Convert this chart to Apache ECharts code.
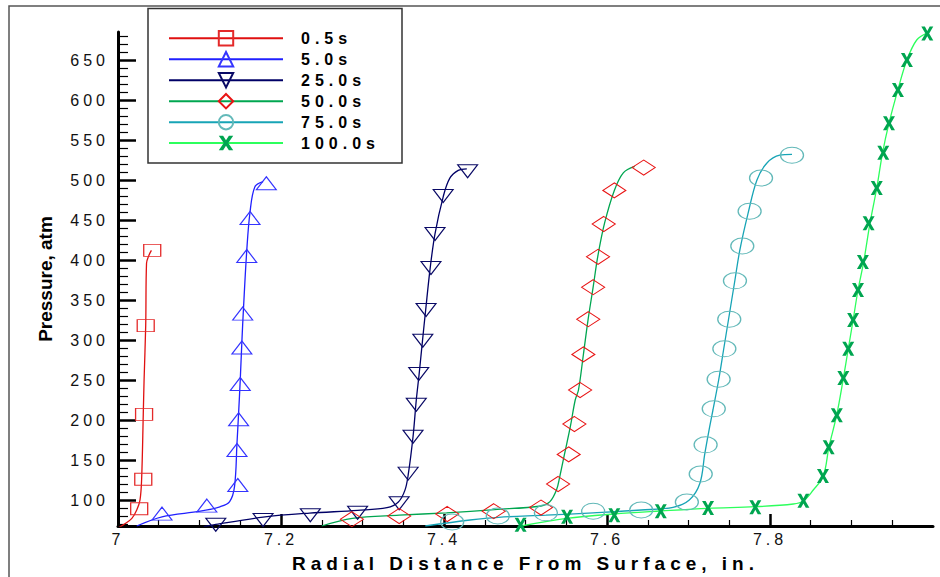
<!DOCTYPE html>
<html>
<head>
<meta charset="utf-8">
<script src="https://cdn.jsdelivr.net/npm/echarts@6/dist/echarts.min.js"></script>
<style>
html,body{margin:0;padding:0;background:#fff;}
#chart{width:940px;height:577px;}
</style>
</head>
<body>
<div id="chart"></div>
<script>
// ---- Series names ----
const seriesNames = ['0.5s', '5.0s', '25.0s', '50.0s', '75.0s', '100.0s'];

// ---- Axis ticks ----
const xMajorTicks = [7, 7.2, 7.4, 7.6, 7.8];
const xMinorTicks = [7.05, 7.1, 7.15, 7.25, 7.3, 7.35, 7.45, 7.5, 7.55, 7.65, 7.7, 7.75, 7.85, 7.9, 7.95];
const yMajorTicks = [100, 150, 200, 250, 300, 350, 400, 450, 500, 550, 600, 650];
const yMinorTicks = [70, 80, 90, 110, 120, 130, 140, 160, 170, 180, 190, 210, 220, 230, 240, 260, 270, 280, 290,
  310, 320, 330, 340, 360, 370, 380, 390, 410, 420, 430, 440, 460, 470, 480, 490, 510, 520, 530, 540,
  560, 570, 580, 590, 610, 620, 630, 640, 660, 670, 680];
const xRange = [7, 8];
const yRange = [67.5, 685];

// ---- 0.5 s ----
const t05LineX = [7.000, 7.008, 7.017, 7.023, 7.027, 7.029, 7.031, 7.032, 7.034, 7.035, 7.038, 7.041];
const t05LineY = [65, 70, 77, 87.5, 100, 126, 207, 250, 318, 396, 406, 412];
const t05MarkX = [7.026, 7.031, 7.032, 7.034, 7.042];
const t05MarkY = [89, 126, 207, 318, 412];

// ---- 5.0 s ----
const t5LineX = [7.023, 7.054, 7.101, 7.125, 7.137, 7.143, 7.146, 7.148, 7.150, 7.152, 7.154, 7.158, 7.162, 7.168, 7.178];
const t5LineY = [67.5, 79, 86, 91.5, 98, 117, 171, 209, 250, 298, 340, 412, 460, 491.6, 498];
const t5MarkX = [7.054, 7.109, 7.147, 7.146, 7.148, 7.150, 7.152, 7.153, 7.158, 7.162, 7.182];
const t5MarkY = [83, 93, 118.75, 162.5, 201, 245, 290.6, 333, 405, 452.5, 496];

// ---- 25.0 s ----
const t25LineX = [7.105, 7.120, 7.178, 7.235, 7.294, 7.330, 7.344, 7.352, 7.356, 7.362, 7.366, 7.3695, 7.3735, 7.3775, 7.383, 7.389, 7.399, 7.407, 7.4175, 7.428];
const t25LineY = [66.5, 69.5, 78.6, 83.6, 87, 90.4, 97.5, 112, 131, 179, 225, 257.5, 298, 337.5, 389.6, 433, 479, 502, 512, 514];
const t25MarkX = [7.120, 7.178, 7.236, 7.294, 7.345, 7.356, 7.362, 7.366, 7.369, 7.374, 7.378, 7.384, 7.389, 7.399, 7.429];
const t25MarkY = [69, 75, 81, 84, 96, 133, 179, 219, 257.5, 299, 337.5, 390, 432.5, 480, 511];

// ---- 50.0 s ----
const t50LineX = [7.250, 7.2875, 7.345, 7.403, 7.462, 7.519, 7.530, 7.538, 7.542, 7.548, 7.555, 7.561, 7.565, 7.571, 7.577, 7.583, 7.5886, 7.597, 7.609, 7.620, 7.634];
const t50LineY = [67.5, 77, 81, 84, 88, 92.5, 98, 112.5, 129, 158, 191.6, 225, 237.5, 281.6, 327, 366, 404, 446, 487, 509, 517];
const t50MarkX = [7.287, 7.345, 7.404, 7.461, 7.519, 7.540, 7.553, 7.560, 7.567, 7.571, 7.577, 7.583, 7.589, 7.596, 7.609, 7.645];
const t50MarkY = [76, 80, 82.5, 86, 90.6, 120, 157, 195, 237.5, 282, 326, 366, 404, 445, 487, 515.6];

// ---- 75.0 s ----
const t75LineX = [7.377, 7.432, 7.467, 7.525, 7.583, 7.642, 7.681, 7.701, 7.714, 7.720, 7.726, 7.730, 7.737, 7.743, 7.749, 7.757, 7.763, 7.773, 7.784, 7.796, 7.812, 7.827];
const t75LineY = [67.5, 75, 78.4, 81, 84, 87.5, 90.9, 100, 121, 158, 191.6, 212.5, 250, 287.5, 325, 375, 412.5, 458, 500, 521, 531, 532];
const t75MarkX = [7.410, 7.466, 7.525, 7.583, 7.642, 7.698, 7.715, 7.721, 7.731, 7.737, 7.744, 7.750, 7.757, 7.766, 7.775, 7.789, 7.827];
const t75MarkY = [72.5, 80, 84, 86, 87.5, 97.5, 132.5, 169, 214, 251, 289, 326, 374, 417.5, 461, 502.5, 531];

// ---- 100.0 s ----
const t100LineX = [7.4945, 7.5505, 7.6086, 7.6663, 7.7243, 7.7816, 7.8286, 7.8409, 7.8531, 7.8654, 7.8724, 7.8818, 7.890, 7.896, 7.902, 7.908, 7.915, 7.9227, 7.931, 7.938, 7.946, 7.957, 7.968, 7.980, 7.993];
const t100LineY = [67.5, 77, 82.5, 86.25, 89.6, 91.6, 95, 98.75, 112.5, 130, 166.6, 206, 252, 288.75, 325, 362.5, 398, 446, 490, 533.4, 571, 613, 650, 675, 684];
const t100MarkX = [7.494, 7.551, 7.609, 7.666, 7.724, 7.782, 7.841, 7.865, 7.872, 7.882, 7.890, 7.896, 7.902, 7.908, 7.914, 7.921, 7.931, 7.939, 7.946, 7.957, 7.968, 7.993];
const t100MarkY = [69, 79, 81, 86, 90, 91, 99, 130, 166, 206, 252.5, 289, 325, 362.5, 397.5, 446, 490, 534, 571, 612.5, 650, 683];

// ---- build ----
const zip = (xs, ys) => xs.map((x, i) => [x, ys[i]]);
const ELLIPSE = 'path://M0,8A11.5,8,0,1,0,23,8A11.5,8,0,1,0,0,8Z';
const XMARK = 'path://M0,0H3.6L6,4.4L8.4,0H12L7.9,7L12,14H8.4L6,9.6L3.6,14H0L4.1,7Z';

const groups = [
  {name: seriesNames[0], line: zip(t05LineX, t05LineY), marks: zip(t05MarkX, t05MarkY), lineColor: '#e01010', markColor: '#e42a2a', symbol: 'rect', size: [17, 12], rotate: 0, filled: false},
  {name: seriesNames[1], line: zip(t5LineX, t5LineY), marks: zip(t5MarkX, t5MarkY), lineColor: '#2020ff', markColor: '#3434ff', symbol: 'triangle', size: [20, 13], rotate: 0, filled: false},
  {name: seriesNames[2], line: zip(t25LineX, t25LineY), marks: zip(t25MarkX, t25MarkY), lineColor: '#000066', markColor: '#0a0a66', symbol: 'triangle', size: [20, 13], rotate: 180, filled: false},
  {name: seriesNames[3], line: zip(t50LineX, t50LineY), marks: zip(t50MarkX, t50MarkY), lineColor: '#00a650', markColor: '#e81414', symbol: 'diamond', size: [23, 15], rotate: 0, filled: false},
  {name: seriesNames[4], line: zip(t75LineX, t75LineY), marks: zip(t75MarkX, t75MarkY), lineColor: '#17a4b6', markColor: '#63b9b9', symbol: ELLIPSE, size: [23, 16], rotate: 0, filled: false},
  {name: seriesNames[5], line: zip(t100LineX, t100LineY), marks: zip(t100MarkX, t100MarkY), lineColor: '#2cff5c', markColor: '#00a550', symbol: XMARK, size: [12, 14], rotate: 0, filled: true}
];

const itemStyleOf = g => g.filled
  ? {color: g.markColor, borderWidth: 0, opacity: 1}
  : {color: 'rgba(255,255,255,0)', borderColor: g.markColor, borderWidth: 1.1, opacity: 1};

const series = [];
groups.forEach(g => {
  series.push({
    type: 'line', name: g.name, data: g.line, smooth: 0.35,
    showSymbol: false, symbol: g.symbol, symbolSize: g.size, symbolRotate: g.rotate,
    lineStyle: {color: g.lineColor, width: 1.3},
    itemStyle: itemStyleOf(g),
    emphasis: {disabled: true}, z: 2, silent: true
  });
});
groups.forEach(g => {
  series.push({
    type: 'scatter', name: g.name, data: g.marks,
    symbol: g.symbol, symbolSize: g.size, symbolRotate: g.rotate,
    itemStyle: itemStyleOf(g),
    emphasis: {disabled: true}, z: 3, silent: true
  });
});

const FONT = '"Liberation Sans", Arial, Helvetica, sans-serif';

const chart = echarts.init(document.getElementById('chart'), null, {renderer: 'svg'});
chart.setOption({
  animation: false,
  backgroundColor: '#fff',
  textStyle: {fontFamily: FONT},
  grid: {left: 118, right: 7, top: 32, bottom: 51, outerBoundsMode: 'none', containLabel: false},
  legend: {
    data: seriesNames, orient: 'vertical', left: 168, top: 30, padding: 0,
    itemWidth: 114, itemHeight: 18, itemGap: 4.6,
    textStyle: {fontFamily: FONT, fontSize: 16, fontWeight: 'bold', color: '#000', padding: [0, 0, 0, 13]},
    selectedMode: false
  },
  xAxis: [{
    type: 'value', min: xRange[0], max: xRange[1],
    name: 'Radial Distance From Surface, in.', nameLocation: 'middle', nameGap: 28, nameMoveOverlap: false,
    nameTextStyle: {fontFamily: FONT, fontSize: 19, fontWeight: 'bold', color: '#000'},
    axisLine: {show: true, onZero: false, lineStyle: {color: '#000', width: 3}},
    axisTick: {show: true, inside: true, length: 12, customValues: xMajorTicks, lineStyle: {color: '#000', width: 2.5}},
    axisLabel: {show: true, customValues: xMajorTicks, margin: 5, fontFamily: FONT, fontSize: 16, color: '#111'},
    splitLine: {show: false}
  }, {
    type: 'value', min: xRange[0], max: xRange[1], position: 'bottom',
    axisLine: {show: false},
    axisTick: {show: true, inside: true, length: 6, customValues: xMinorTicks, lineStyle: {color: '#000', width: 1.2}},
    axisLabel: {show: false}, splitLine: {show: false}
  }],
  yAxis: [{
    type: 'value', min: yRange[0], max: yRange[1],
    name: 'Pressure, atm', nameLocation: 'middle', nameGap: 63, nameRotate: 90, nameMoveOverlap: false,
    nameTextStyle: {fontFamily: FONT, fontSize: 19, fontWeight: 'bold', color: '#000'},
    axisLine: {show: true, onZero: false, lineStyle: {color: '#000', width: 3}},
    axisTick: {show: true, inside: true, length: 18, customValues: yMajorTicks, lineStyle: {color: '#000', width: 2.5}},
    axisLabel: {show: true, customValues: yMajorTicks, margin: 9, fontFamily: FONT, fontSize: 16, color: '#111'},
    splitLine: {show: false}
  }, {
    type: 'value', min: yRange[0], max: yRange[1], position: 'left',
    axisLine: {show: false},
    axisTick: {show: true, inside: true, length: 10, customValues: yMinorTicks, lineStyle: {color: '#000', width: 1.2}},
    axisLabel: {show: false}, splitLine: {show: false}
  }],
  graphic: [
    {type: 'polyline', z: 0, silent: true, shape: {points: [[9, 577], [9, 6], [940, 6]]}, style: {stroke: '#555', lineWidth: 1.5, fill: null}},
    {type: 'rect', z: 0, silent: true, shape: {x: 148, y: 8.5, width: 254, height: 154.5}, style: {stroke: '#333', lineWidth: 1.5, fill: '#fff'}}
  ],
  series: series
});

function applySpacing() {
  document.querySelectorAll('#chart text').forEach(t => {
    const s = (t.textContent || '').trim();
    let ls = null;
    if (/^\d+(\.\d+)?$/.test(s)) ls = '4px';
    else if (/^\d+\.\d+s$/.test(s)) ls = '5px';
    else if (s.indexOf('Radial') === 0) ls = '5px';
    if (ls) t.style.letterSpacing = ls;
  });
}
chart.getZr().refreshImmediately();
applySpacing();
chart.on('finished', applySpacing);
setTimeout(applySpacing, 30);
</script>
</body>
</html>
